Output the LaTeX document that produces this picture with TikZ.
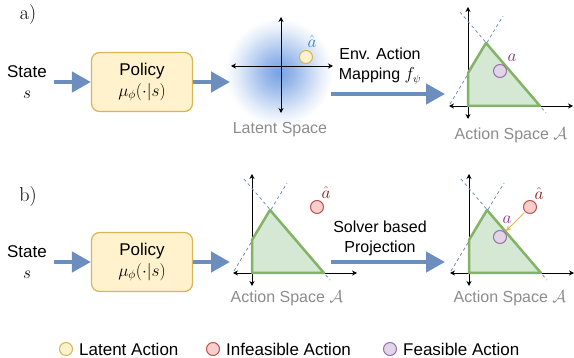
\documentclass[tikz,border=0pt]{standalone}
\usepackage{fontspec}
\setsansfont{Liberation Sans}
\usetikzlibrary{arrows.meta,positioning}

\definecolor{flowblue}{HTML}{6C8EBF}
\definecolor{policyfill}{HTML}{FFF2CC}
\definecolor{policyline}{HTML}{D6B656}
\definecolor{regionfill}{HTML}{D5E8D4}
\definecolor{regionline}{HTML}{82B366}
\definecolor{inffill}{HTML}{F8CECC}
\definecolor{infline}{HTML}{B85450}
\definecolor{feasfill}{HTML}{E1D5E7}
\definecolor{feasline}{HTML}{9673A6}
\definecolor{blobblue}{HTML}{5A8DDD}
\definecolor{hatblue}{HTML}{2F7FD8}
\definecolor{hatred}{HTML}{8B1C1C}
\definecolor{apurple}{HTML}{8A2B8A}
\definecolor{spacegray}{HTML}{8C8C8C}
\definecolor{projgold}{HTML}{E5B44C}

\pgfdeclareradialshading{latentblob}{\pgfpoint{0bp}{0bp}}{color(0bp)=(blobblue!82!white); color(7bp)=(blobblue!62!white); color(14bp)=(blobblue!36!white); color(20bp)=(blobblue!14!white); color(25bp)=(white); color(50bp)=(white)}

% axes, constraint lines and feasible region, origin at #1,#2
\newcommand{\actionspace}[2]{%
  \begin{scope}[shift={(#1,#2)}]
    \draw[axis] (0,13) -- (0,-99);
    \draw[axis] (-19,0) -- (105,0);
    \draw[bound] (-18,-2) -- (35,-90);
    \draw[bound] (-8,-94) -- (78,7);
    \draw[region] (0,0) -- (0,-33) -- (18,-63) -- (72,0) -- cycle;
  \end{scope}}

\begin{document}
\begin{tikzpicture}[x=1pt,y=-1pt]
  \tikzstyle{every node}=[font=\sffamily\fontsize{17}{21}\selectfont]
  \tikzstyle{panel}=[font=\rmfamily\fontsize{20}{24}\selectfont]
  \tikzstyle{policy}=[draw=policyline, fill=policyfill, line width=1.2pt, rounded corners=8pt,
                      minimum width=101pt, minimum height=59pt, align=center]
  \tikzstyle{flow}=[draw=flowblue, line width=4.5pt, arrows={-Triangle[length=19pt,width=20pt]}]
  \tikzstyle{axis}=[line width=0.9pt, arrows={Stealth[length=5pt,width=5pt]-Stealth[length=5pt,width=5pt]}]
  \tikzstyle{bound}=[draw=flowblue, line width=0.8pt, dash pattern=on 3pt off 3pt]
  \tikzstyle{region}=[draw=regionline, fill=regionfill, line width=2.5pt, line join=round]
  \tikzstyle{dot}=[circle, minimum size=13pt, inner sep=0pt, line width=1pt]
  \tikzstyle{latdot}=[dot, draw=policyline, fill=policyfill]
  \tikzstyle{infdot}=[dot, draw=infline, fill=inffill]
  \tikzstyle{feasdot}=[dot, draw=feasline, fill=feasfill]
  \tikzstyle{spacelabel}=[text=spacegray, font=\sffamily\fontsize{16}{19}\selectfont]
  \tikzstyle{steplabel}=[align=center, font=\sffamily\fontsize{16}{20}\selectfont]
  \tikzstyle{projarrow}=[draw=projgold, line width=1pt, shorten <=1pt, shorten >=1pt,
                         arrows={-Stealth[length=6pt,width=5pt]}]
  \useasboundingbox (0,0) rectangle (574,358);

  % a) latent action mapping
  \node[panel] at (28,15) {a)};
  \shade[shading=latentblob] (279,72) circle (54);
  \node[align=center] (state_a) at (27,82) {State\\$s$};
  \node[policy] (policy_a) at (142,82) {Policy\\$\mu_\phi(\cdot|s)$};
  \coordinate (lat_in) at (230,82);
  \draw[flow] (state_a) ++(27,0) -- (policy_a.west);
  \draw[flow] (policy_a) -- (lat_in);
  \draw[axis] (231,66) -- (333,66);
  \draw[axis] (281,17) -- (281,113);
  \node[latdot] (lat_pt) at (306,57) {};
  \node[text=hatblue] at (312,42) {$\hat a$};
  \node[spacelabel] at (280,130) {Latent Space};
  \node[steplabel] (map) at (380,66) {Env. Action\\Mapping $f_\psi$};
  \coordinate (map_out) at (331,94);
  \coordinate (act_in) at (445,94);
  \draw[flow] (map_out) -- (act_in);
  \actionspace{468}{106}
  \node[feasdot] (feas_a) at (500,71) {};
  \node[text=apurple] at (512,58) {$a$};
  \node[spacelabel] at (511,135) {Action Space $\mathcal{A}$};

  % b) solver based projection
  \node[panel] at (28,197) {b)};
  \node[align=center] (state_b) at (27,262) {State\\$s$};
  \node[policy] (policy_b) at (142,262) {Policy\\$\mu_\phi(\cdot|s)$};
  \coordinate (raw_in) at (230,262);
  \draw[flow] (state_b) ++(27,0) -- (policy_b.west);
  \draw[flow] (policy_b) -- (raw_in);
  \actionspace{252}{273}
  \node[infdot] (inf_raw) at (317,207) {};
  \node[text=hatred] at (326,193) {$\hat a$};
  \node[spacelabel] at (287,298) {Action Space $\mathcal{A}$};
  \node[steplabel] (proj) at (380,238) {Solver based\\Projection};
  \coordinate (proj_out) at (331,262);
  \coordinate (proj_in) at (445,262);
  \draw[flow] (proj_out) -- (proj_in);
  \actionspace{469}{273}
  \node[infdot] (inf_b) at (530,207) {};
  \node[text=hatred] at (539,194) {$\hat a$};
  \node[feasdot] (feas_b) at (500,237) {};
  \node[text=apurple] at (507,220) {$a$};
  \draw[projarrow] (inf_b) -- (feas_b);
  \node[spacelabel] at (510,298) {Action Space $\mathcal{A}$};

  % legend
  \foreach \x/\kind/\txt in {66/latdot/Latent Action, 213/infdot/Infeasible Action, 390/feasdot/Feasible Action}{
    \node[\kind] (key\x) at (\x,349) {};
    \node[right=6pt of key\x, inner sep=0pt] {\txt};
  }
\end{tikzpicture}
\end{document}
